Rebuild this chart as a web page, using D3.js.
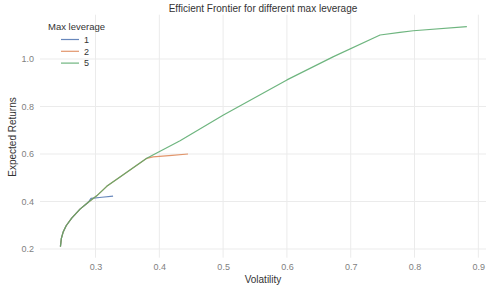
<!DOCTYPE html>
<html><head><meta charset="utf-8">
<script src="https://cdn.jsdelivr.net/npm/d3@7"></script>
<style>body{margin:0;background:#fff}svg{display:block;font-family:"Liberation Sans",Arial,sans-serif}</style>
</head><body><svg id="c" width="502" height="294"></svg>
<script>
const leverages = ["1", "2", "5"];
const colors = ["#4C72B0", "#DD8452", "#55A868"];
const vol1 = [0.245, 0.2465, 0.2495, 0.254, 0.2627, 0.2757, 0.2887, 0.293, 0.31, 0.3275];
const ret1 = [0.21, 0.245, 0.273, 0.298, 0.33, 0.368, 0.397, 0.413, 0.418, 0.423];
const vol2 = [0.245, 0.2465, 0.2495, 0.254, 0.2627, 0.2757, 0.2887, 0.3019, 0.3176, 0.3384, 0.3803, 0.39, 0.42, 0.445];
const ret2 = [0.21, 0.245, 0.273, 0.298, 0.33, 0.368, 0.397, 0.424, 0.464, 0.503, 0.582, 0.588, 0.594, 0.600];
const vol5 = [0.245, 0.2465, 0.2495, 0.254, 0.2627, 0.2757, 0.2887, 0.3019, 0.3176, 0.3384, 0.3803, 0.4325, 0.5005, 0.600, 0.673, 0.746, 0.777, 0.798, 0.882];
const ret5 = [0.21, 0.245, 0.273, 0.298, 0.33, 0.368, 0.397, 0.424, 0.464, 0.503, 0.582, 0.656, 0.764, 0.912, 1.010, 1.101, 1.112, 1.119, 1.136];
const xTicks = [0.3, 0.4, 0.5, 0.6, 0.7, 0.8, 0.9];
const yTicks = [0.2, 0.4, 0.6, 0.8, 1.0];

const series = [
  {name: leverages[0], color: colors[0], v: vol1, r: ret1},
  {name: leverages[1], color: colors[1], v: vol2, r: ret2},
  {name: leverages[2], color: colors[2], v: vol5, r: ret5}
];

const svg = d3.select("#c");
const x = d3.scaleLinear().domain([0.213, 0.912]).range([40, 486]);
const y = d3.scaleLinear().domain([0.1635, 1.1865]).range([257.7, 14.7]);

const g = svg.append("g");
g.selectAll("line.gx").data(xTicks).join("line")
  .attr("x1", d => x(d)).attr("x2", d => x(d)).attr("y1", 14.7).attr("y2", 257.7)
  .attr("stroke", "#ebebeb").attr("stroke-width", 1);
g.selectAll("line.gy").data(yTicks).join("line")
  .attr("y1", d => y(d)).attr("y2", d => y(d)).attr("x1", 40).attr("x2", 486)
  .attr("stroke", "#ebebeb").attr("stroke-width", 1);

const xAxis = d3.axisBottom(x).tickValues(xTicks).tickFormat(d3.format(".1f")).tickSize(0).tickPadding(6);
const ax = svg.append("g").attr("transform", "translate(0,257.7)").call(xAxis);
ax.select(".domain").remove();
ax.selectAll("text").attr("fill", "#7f7f7f").attr("font-size", 9).attr("font-family", "Liberation Sans, Arial, sans-serif");

const yAxis = d3.axisLeft(y).tickValues(yTicks).tickFormat(d3.format(".1f")).tickSize(0).tickPadding(6);
const ay = svg.append("g").attr("transform", "translate(40,0)").call(yAxis);
ay.select(".domain").remove();
ay.selectAll("text").attr("fill", "#7f7f7f").attr("font-size", 9).attr("font-family", "Liberation Sans, Arial, sans-serif");

const line = d3.line().x(d => x(d[0])).y(d => y(d[1]));
series.forEach(s => {
  const pts = s.v.map((v, i) => [v, s.r[i]]);
  svg.append("path").datum(pts).attr("d", line)
    .attr("fill", "none").attr("stroke", s.color).attr("stroke-width", 1.2)
    .attr("stroke-opacity", 0.85).attr("stroke-linejoin", "round");
});

svg.append("text").attr("x", 263).attr("y", 12).attr("text-anchor", "middle")
  .attr("font-size", 10).attr("fill", "#333").text("Efficient Frontier for different max leverage");
svg.append("text").attr("x", 263).attr("y", 283).attr("text-anchor", "middle")
  .attr("font-size", 10).attr("fill", "#333").text("Volatility");
svg.append("text").attr("transform", "translate(16,137) rotate(-90)").attr("text-anchor", "middle")
  .attr("font-size", 10).attr("fill", "#333").text("Expected Returns");

const lg = svg.append("g");
lg.append("text").attr("x", 48).attr("y", 30).attr("font-size", 9.5).attr("fill", "#333").text("Max leverage");
series.forEach((s, i) => {
  const yy = 39.5 + i * 11.8;
  lg.append("line").attr("x1", 61).attr("x2", 79).attr("y1", yy).attr("y2", yy)
    .attr("stroke", s.color).attr("stroke-width", 1.2).attr("stroke-opacity", 0.85);
  lg.append("text").attr("x", 84).attr("y", yy + 3.3).attr("font-size", 9).attr("fill", "#333").text(s.name);
});
</script></body></html>
